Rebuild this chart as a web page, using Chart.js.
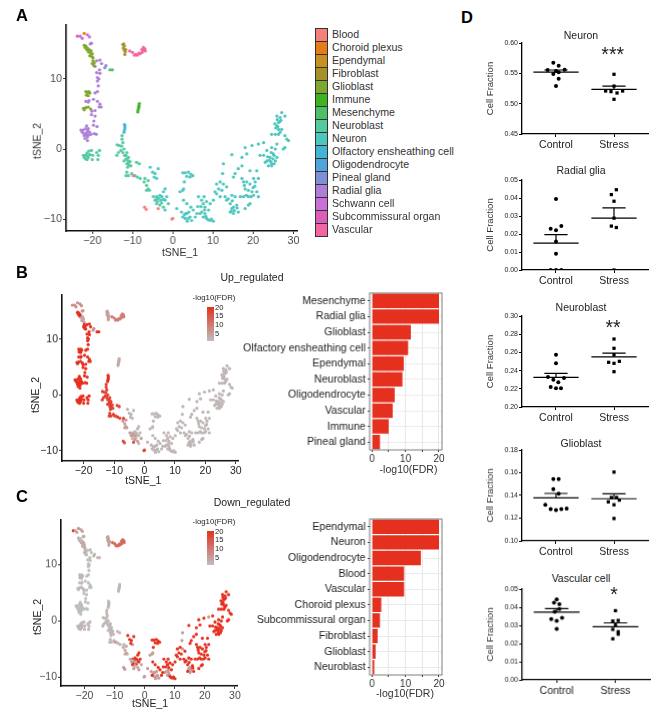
<!DOCTYPE html>
<html>
<head>
<meta charset="utf-8">
<script src="https://cdn.jsdelivr.net/npm/chart.js@4/dist/chart.umd.min.js"></script>
<style>
html, body { margin: 0; padding: 0; background: #fff; }
#page { position: relative; width: 669px; height: 717px; overflow: hidden; font-family: "Liberation Sans", Arial, sans-serif; }
#page canvas { position: absolute; }
.lbl { position: absolute; white-space: nowrap; line-height: 1; transform: translate(-50%, -50%); color: #222; }
.swatch { position: absolute; box-sizing: border-box; border: 1px solid #333; }
</style>
</head>
<body>
<div id="page"></div>
<script>
// t-SNE cells, one list per colour/expression group
var bloodPts = [[-9.8,-3.8],[-7,-8.3],[-6.6,-8.6],[-3.6,-8.5],[-0.2,-10],[0,-9.9]];
var schwannPts = [[-23,16.1],[-22.5,15.8],[-21.2,16.3],[-20.7,16]];
var subcomPts = [[-23.7,16.1]];
var choroidPts = [[-22,16.5]];
var radialTopPts = [[-20.2,15.1],[-20.5,15]];
var glioHotPts = [[-22,14.8],[-21.8,14.5],[-21.6,14.7],[-21.4,14.2],[-21.2,14.4],[-19.8,12.6],[-20,12.2],[-19.5,12.3],[-19.6,11.9],
    [-21.6,8.2],[-21.2,8],[-20.9,8.2],[-20.6,8],[-21.5,7.7],[-21,7.6],[-22.2,5.8],[-21.6,5.9],[-21,6],[-22,5.6],[-20.4,5.7]];
var glioPalePts = [[-21,13.9],[-20.8,14.2],[-20.5,13.7],[-20.3,14],[-20,13.6],[-20.6,13.3],[-20.1,13.2],[-19.8,13]];
var radialPts = [[-18.1,12.7],[-18.9,12.6],[-17.7,12.2],[-19.3,11.8],[-18.2,11.3],[-18.9,10.9],[-18.1,10.8],[-18.7,10.2],[-18.4,10],[-18.7,9.7],[-18.5,9],
    [-19.3,8],[-18.7,8.2],[-21.6,6.8],[-20.8,6.9],[-19.7,7.1],[-18.7,6.8],[-21,6.7],[-18.1,6.4],[-17.8,6],[-18.3,6],[-20.1,5.4],[-19.3,5.5],[-20.2,4.9],
    [-19.6,4],[-19.7,3.4],[-19.3,4.7],[-22.3,2.7],[-22.5,2.4],[-22.1,2.2],[-21.7,2.9],[-21.4,3.3],[-21.2,2.6],[-21.5,2],[-21.2,1.7],[-21.8,1.5],[-21.2,1.2],
    [-20.9,2],[-20.7,2.4],[-20.3,2.1],[-22,1.9],[-21.4,2.3],[-21,2.9],[-19.5,2.2],[-18.8,3.2],[-19,2.1],[-22.8,2.7]];
var pinealPts = [[-16.6,11.9],[-16.9,11.6]];
var mesenchymePts = [[-15.6,11.3],[-15,11.3]];
var lowerLeftPts = [[-22,-1.2],[-21.6,-0.9],[-21.3,-0.6],[-21,-1.2],[-21.3,-1.5],[-20.9,-0.3],[-20.6,-0.8],[-20.2,-0.2],[-19.9,-0.9],[-20,-1.5],
    [-18.9,-0.5],[-18.2,-0.2],[-18.5,-0.9],[-18.6,-1.5],[-21.7,-1.4],[-21.1,-1],[-22.2,-0.9]];
var olfactoryPts = [[-11.9,3.3],[-11.9,3],[-12,2.7],[-12.1,2.4],[-12,3.5]];
var arcHotPts = [[-12.6,1.9],[-12.6,1.4],[-12.4,0.9],[-13.8,0.6],[-13.3,0.5],[-12.7,0.4],[-12.1,0],[-13.5,-0.5],[-12.9,-0.2],[-12.4,-0.5],[-13.9,-0.9],
    [-11.4,-0.5],[-11,-1.2],[-11.6,-1.4],[-12.1,-1.7],[-11,-1.9],[-10.4,-2.4],[-11.4,-2.1],[-9,-1.9],[-8.3,-2.1],[-11.4,-3.3],[-11,-3.8],[-10.2,-3.5],
    [-9.4,-3.8],[-11.6,-3.8],[-8.8,-4],[-8.1,-4.2],[-6.9,-4.2],[-12,-0.9],[-11.6,-0.9],[-11.2,-1.6],[-10.9,-2.3],[-11.2,-2.6],[-10.6,-1.8]];
var arcPalePts = [[-6.1,-4.5],[-7.1,-4.7],[-6.5,-5.2],[-6.1,-5.7],[-6.5,-5.9],[-5.8,-5.9],[-4.8,-6.8],[-4.4,-7.3],[-3.2,-8],[-2.3,-8.3],[-1.1,-7.8],[-3.9,-7.1],[-3,-7.3]];
var neuronHotPts = [[-5.6,-2.6],[-5,-3.3],[-4.4,-3.5],[-3.6,-2.8],[-4.6,-4],[-4,-6.8],[-3.8,-7.5],[-3.2,-6.6],[-2.3,-6.1],[-1.9,-5.7],[-2.7,-6.8],[-1.9,-7.3],[-1.5,-6.8],[-4,-7.8],[-3.5,-7],[-2.8,-7.7],[-2.3,-7.2],
    [2.5,-3.4],[3.1,-3.4],[3.9,-3.3],[4.5,-3.6],[5,-3.8],[3.5,-3.9],[4.3,-4],[2.9,-4.7],[2.5,-9.7],[2.7,-7.3],[3.5,-7.8],[4.5,-8.3],[5.1,-8.7],[6,-9.2],[5.6,-9.7],
    [8.4,-9.9],[9.3,-10.2],[10.1,-10.3],[8.9,-8.7],[8,-8.3],[6.4,-6.8],[7.2,-7.3],[8.4,-7.5],[9.3,-7.8],[10.1,-7.3],[7.6,-7.8],[7.8,-6.8],[6.2,-8.2],[8.8,-10.1],[9.6,-10],[7,-8.2],
    [10.9,-5],[11.8,-4.7],[13.4,-5.4],[11.4,-5.7],[10.5,-6.1],[12.2,-5.9],[10.9,-6.4],[11.8,-6.8],[14.7,-0.8],[17.2,-2.4],[16.3,-2.8],[15.5,-3.5],[15.1,-4],[17.2,-1.2],[18.4,-0.7],
    [18,0.2],[19.7,0.5],[22.6,0.9],[23.4,-0.2],[22.6,-0.9],[21.7,-0.9],[23.4,-1.7],[23.8,-2.4],[24.6,-2.1],[25,-0.7],[25.5,0],[24.6,0.2],[25.9,0.7],[26.3,2.1],[25.5,2.1],[27.1,2.8],
    [27.9,1.9],[28.4,1.4],[28.8,1.2],[27.5,0],[27.9,0.2],[25.9,3.3],[26.3,3.8],[26.7,4.5],[25.9,4.7],[27.1,5.2],[27.9,4.7],[26.3,2.8],[26.7,2.4],[24.6,2.1],[24.6,-2.4],[25.5,-1.7],
    [25.9,-1.2],[24.2,-1.2],[23,-1.9],[13,-6.8],[13.8,-7.1],[14.3,-7.8],[13.4,-7.3],[14.3,-9],[16.3,-9],[15.9,-8],[14.7,-6.6],[15.5,-6.8],[16.8,-6.8],[17.6,-6.8],[18.8,-6.8],[20.1,-6.6],
    [18.8,-8],[18,-8.5],[19.2,-7.8],[17.6,-4.7],[18.4,-4.7],[19.2,-5],[20.5,-4.7],[20.1,-4.2],[21.3,-4.2],[20.9,-3.1],[18,-5.7],[18.8,-5.9],[19.7,-6.1],[20.9,-6.1],[21.3,-6.8],[17.2,-4.2],[19.2,-3.1],
    [25.6,3],[26.1,3.2],[26.6,3.9],[25.4,3.6],[26.9,4.1],[26,4.2],[24,-1.6],[24.4,-1.8],[24.9,-1.4],[25.2,-0.9],[23.6,-1.1],[24.5,-0.5],[25.2,-2.1],
    [14.8,-7.4],[16,-8.4],[18.3,-6.6],[17.8,-5.2],[19.5,-6.8],[20.4,-5.3],[20,-5.5]];
var neuronPalePts = [[-4,-4.2],[-1.9,-8.7],[1,-8.5],[2.2,-9],[3.1,-9.9],[3.5,-9.2],[4.3,-9.7],[4.7,-10.2],[3.9,-9.9],[6.8,-9.2],[7.6,-9.7],[7.2,-9],[8,-9.2],
    [2.5,-5.9],[1.8,-6.1],[2.7,-5.7],[12.6,-5],[12.4,-3.5],[12.6,-2.1],[21.3,0.7],[14.7,-8.5],[15.1,-9.2],[15.1,-8.3],
    [7.9,-8.7],[8.2,-9.6],[3.2,-9.2],[4,-9],[2.9,-9.4],[3.6,-10.3],[15.3,-8.8],[14.5,-8.9]];
var immunePts = [[-8.3,6.5],[-8.4,6.2],[-8.5,5.9],[-8.6,5.6],[-8.7,5.3],[-8.4,6]];
var fibroblastPts = [[-12.2,15],[-12,14.7],[-12.3,14.4],[-12,14.1],[-11.8,13.9],[-12.4,14.9],[-11.9,13.5],[-11.7,14.2]];
var vascularPts = [[-10.7,14],[-10,13.8],[-9.5,13.4],[-9.2,13.5],[-8.8,13.4],[-8.4,13.7],[-8.1,13.6],[-7.6,13.8],[-7.2,14.1],[-6.9,14.3],[-7.3,14.5],[-6.8,14],[-7.7,14.2]];

var legendNames = ['Blood','Choroid plexus','Ependymal','Fibroblast','Glioblast','Immune','Mesenchyme','Neuroblast','Neuron',
    'Olfactory ensheathing cell','Oligodendrocyte','Pineal gland','Radial glia','Schwann cell','Subcommissural organ','Vascular'];
var legendColors = ['#f67f7a','#e37d1a','#c8901f','#a5902a','#7fa72b','#3cb31f','#4cc064','#54ca9f','#4dc6be',
    '#43b4d4','#4fa4dc','#7f90d8','#ae7fd8','#c870d8','#db5cbb','#f265a1'];

// [points, legend name, fdr in Up panel, fdr in Down panel]
var cellGroups = [
    [bloodPts,'Blood',16,5],[choroidPts,'Choroid plexus',6,6],[schwannPts,'Schwann cell',7,4],[subcomPts,'Subcommissural organ',7,20],
    [radialTopPts,'Radial glia',6,2],[glioHotPts,'Glioblast',20,1],[glioPalePts,'Glioblast',3,3],[radialPts,'Radial glia',20,0],
    [pinealPts,'Pineal gland',6,1],[mesenchymePts,'Mesenchyme',20,1],[lowerLeftPts,'Neuroblast',20,1],[olfactoryPts,'Olfactory ensheathing cell',20,1],
    [arcHotPts,'Neuroblast',18,1],[arcPalePts,'Neuroblast',5,3],[neuronHotPts,'Neuron',1,20],[neuronPalePts,'Neuron',1,5],
    [immunePts,'Immune',3,1],[fibroblastPts,'Fibroblast',4,4],[vascularPts,'Vascular',9,12]
];
var tsneXTicks = [-20,-10,0,10,20,30];
var tsneYTicks = [-10,0,10];

var upLabels = ['Mesenchyme','Radial glia','Glioblast','Olfactory ensheathing cell','Ependymal','Neuroblast','Oligodendrocyte','Vascular','Immune','Pineal gland'];
var upValues = [20,20,11.6,10.8,9.5,9.1,6.8,6.2,5,2.4];
var downLabels = ['Ependymal','Neuron','Oligodendrocyte','Blood','Vascular','Choroid plexus','Subcommissural organ','Fibroblast','Glioblast','Neuroblast'];
var downValues = [20,20,14.6,9.6,9.6,2.8,2.4,1.7,1.1,0.7];
var fdrTicks = [0,5,10,15,20];

// panel D: [position with jitter, cell fraction]
var neuronControl = [[.954,.5676],[1.046,.5626],[.856,.5555],[1.149,.556],[.954,.549],[1.046,.5516],[1.046,.541],[1,.529],[1,.5538]];
var neuronStress = [[2,.5484],[2,.529],[1.856,.5209],[1.948,.5198],[2.052,.5176],[2.149,.5209],[2,.5072]];
var neuronMean = [.552,.5236];
var neuronUpper = [.5555,.529];
var neuronTicks = [.45,.5,.55,.6];
var radialControl = [[1,.0395],[.908,.0229],[1,.0221],[1.092,.0245],[1,.0159],[1,.009],[.908,0],[1,0],[1.092,0]];
var radialStress = [[2.04,.0446],[1.954,.0419],[2,.0382],[2,.0288],[1.954,.0244],[2.04,.0236],[2,0]];
var radialMean = [.0149,.0288];
var radialUpper = [.0196,.0345];
var radialTicks = [0,.01,.02,.03,.04,.05];
var neuroblastControl = [[1,.2575],[1,.248],[.862,.233],[1.138,.2319],[.954,.23],[1.04,.2271],[.908,.222],[1,.2205],[1.086,.2205]];
var neuroblastStress = [[2,.2747],[2,.2645],[2,.2575],[1.908,.2491],[2,.248],[2.092,.2502],[2,.2388]];
var neuroblastMean = [.2326,.255];
var neuroblastUpper = [.237,.2593];
var neuroblastTicks = [.2,.22,.24,.26,.28,.3];
var glioControl = [[.954,.1544],[1.046,.1544],[.954,.1456],[1.046,.1415],[.816,.1318],[.908,.1279],[1,.1271],[1.092,.1279],[1.184,.1285]];
var glioStress = [[2,.1606],[1.954,.1382],[2.046,.1382],[1.902,.1344],[2.092,.1359],[2,.1318],[2,.1197]];
var glioMean = [.1379,.1371];
var glioUpper = [.1418,.1415];
var glioTicks = [.1,.12,.14,.16,.18];
var vascularControl = [[1,.0443],[.954,.0425],[1.046,.0416],[1.046,.039],[.966,.0375],[.908,.0335],[1,.0325],[1.092,.0342],[1,.0281]];
var vascularStress = [[2,.0381],[1.954,.0324],[2.046,.0327],[2,.0301],[1.954,.0278],[2.046,.0265],[2.046,.0252],[1.954,.0226]];
var vascularMean = [.0373,.0292];
var vascularUpper = [.0392,.0314];
var vascularTicks = [0,.01,.02,.03,.04,.05];
var groupNames = ['Control','Stress'];

var page = document.getElementById('page');
var FONT = '"Liberation Sans", Arial, sans-serif';
Chart.defaults.font.family = FONT;
Chart.defaults.animation = false;

// all loose text on the figure goes through here
function label(text, x, y, size, opts) {
    opts = opts || {};
    var d = document.createElement('div');
    d.className = 'lbl';
    d.textContent = text;
    d.style.left = x + 'px';
    d.style.top = y + 'px';
    d.style.fontSize = size + 'px';
    if (opts.bold) d.style.fontWeight = 'bold';
    if (opts.color) d.style.color = opts.color;
    if (opts.rotate) d.style.transform = 'translate(-50%,-50%) rotate(-90deg)';
    if (opts.left) d.style.transform = 'translate(0,-50%)';
    page.appendChild(d);
}

// puts a chart on the page so that its plot area lands exactly on box
function placeChart(box, space, config) {
    var canvas = document.createElement('canvas');
    var w = box.right - box.left + space.left + space.right;
    var h = box.bottom - box.top + space.top + space.bottom;
    canvas.width = w;
    canvas.height = h;
    canvas.style.left = (box.left - space.left) + 'px';
    canvas.style.top = (box.top - space.top) + 'px';
    canvas.style.width = w + 'px';
    canvas.style.height = h + 'px';
    page.appendChild(canvas);
    config.options.responsive = false;
    config.options.layout = { padding: { top: space.top, right: space.right, left: 0, bottom: 0 } };
    // no extra inset for labels at the axis ends, otherwise the plot area shrinks
    config.options.scales.x.afterFit = function(s) { s.height = space.bottom; s.paddingLeft = 0; s.paddingRight = 0; };
    config.options.scales.y.afterFit = function(s) { s.width = space.left; s.paddingTop = 0; s.paddingBottom = 0; };
    config.options.plugins = config.options.plugins || {};
    config.options.plugins.legend = { display: false };
    config.options.plugins.tooltip = { enabled: false };
    return new Chart(canvas.getContext('2d'), config);
}

function setTicks(values) {
    return function(s) { s.ticks = values.map(function(v) { return { value: v }; }); };
}

function hexRgb(h) { return [1,3,5].map(function(i) { return parseInt(h.substr(i,2),16); }); }
var GREY = hexRgb('#bdbdbd'), RED = hexRgb('#e5301f');
function fdrColor(v) {
    var t = Math.min(v, 20) / 20;
    return 'rgb(' + GREY.map(function(g,i) { return Math.round(g + (RED[i]-g)*t); }).join(',') + ')';
}

function toXY(p) { return { x: p[0], y: p[1] }; }

function tsneChart(box, xr, yr, tickSize, tickColor, colorOf) {
    var minus = function(v) { return String(v).replace('-', '\u2212'); };
    placeChart(box, { left: 36, right: 12, top: 2, bottom: 18 }, {
        type: 'scatter',
        data: { datasets: cellGroups.map(function(g) {
            return { data: g[0].map(toXY), pointRadius: 1.6, pointBorderWidth: 0, backgroundColor: colorOf(g) };
        }) },
        options: { scales: {
            x: { type: 'linear', min: xr[0], max: xr[1], afterBuildTicks: setTicks(tsneXTicks),
                grid: { drawOnChartArea: false, tickLength: 3, color: '#333' }, border: { color: '#111', width: 1.6 },
                ticks: { autoSkip: false, maxRotation: 0, padding: 1, color: tickColor, font: { size: tickSize }, callback: minus } },
            y: { type: 'linear', min: yr[0], max: yr[1], afterBuildTicks: setTicks(tsneYTicks),
                grid: { drawOnChartArea: false, tickLength: 3, color: '#333' }, border: { color: '#111', width: 1.6 },
                ticks: { autoSkip: false, padding: 1, color: tickColor, font: { size: tickSize }, callback: minus } }
        } }
    });
}

var panelBorder = { id: 'panelBorder', afterDraw: function(c) {
    var a = c.chartArea, ctx = c.ctx;
    ctx.save();
    ctx.strokeStyle = '#7f7f7f';
    ctx.lineWidth = 1;
    ctx.strokeRect(a.left, a.top, a.right - a.left, a.bottom - a.top);
    ctx.restore();
} };

function barChart(box, labels, values) {
    placeChart(box, { left: 132, right: 6, top: 1, bottom: 16 }, {
        type: 'bar',
        plugins: [panelBorder],
        data: { labels: labels, datasets: [{ data: values, backgroundColor: '#e5301f', barPercentage: 0.92, categoryPercentage: 1 }] },
        options: { indexAxis: 'y', scales: {
            x: { type: 'linear', min: -0.68, max: 20.9, afterBuildTicks: setTicks(fdrTicks),
                grid: { color: '#e6e6e6', tickColor: '#333', tickLength: 2 }, border: { display: false },
                ticks: { autoSkip: false, maxRotation: 0, padding: 1, color: '#333', font: { size: 10 },
                    callback: function(v) { return v % 10 === 0 ? v : ''; } } },
            y: { grid: { offset: false, color: '#ebebeb', tickColor: '#333', tickLength: 2 }, border: { display: false },
                ticks: { autoSkip: false, padding: 2, color: '#222', font: { size: 10.6 } } }
        } }
    });
}

function fractionChart(box, control, stress, mean, upper, ticks) {
    var datasets = [
        { data: control.map(toXY), pointRadius: 2, pointStyle: 'circle', backgroundColor: '#000', pointBorderWidth: 0 },
        { data: stress.map(toXY), pointRadius: 2.3, pointStyle: 'rect', backgroundColor: '#000', pointBorderWidth: 0 }
    ];
    mean.forEach(function(m, i) {
        var p = i + 1;
        datasets.push({ data: [{ x: p - 0.39, y: m }, { x: p + 0.39, y: m }], showLine: true, pointRadius: 0, borderColor: '#000', borderWidth: 1.2 });
        datasets.push({ data: [{ x: p, y: m }, { x: p, y: upper[i] }, { x: p - 0.2, y: upper[i] }, { x: p + 0.2, y: upper[i] }],
            showLine: true, pointRadius: 0, borderColor: '#000', borderWidth: 1.2 });
    });
    placeChart(box, { left: 37, right: 12, top: 5, bottom: 20 }, {
        type: 'scatter',
        data: { datasets: datasets },
        options: { scales: {
            x: { type: 'linear', min: 0.414, max: 2.586, afterBuildTicks: setTicks([1, 2]),
                grid: { drawOnChartArea: false, tickLength: 3, color: '#000' }, border: { color: '#000', width: 1.3 },
                ticks: { autoSkip: false, maxRotation: 0, padding: 2, color: '#222', font: { size: 10.5 },
                    callback: function(v) { return groupNames[v - 1]; } } },
            y: { type: 'linear', min: ticks[0], max: ticks[ticks.length - 1], afterBuildTicks: setTicks(ticks),
                grid: { drawOnChartArea: false, tickLength: 3, color: '#000' }, border: { color: '#000', width: 1.3 },
                title: { display: true, text: 'Cell Fraction', color: '#333', font: { size: 9.5 }, padding: 0 },
                ticks: { autoSkip: false, padding: 1, color: '#222', font: { size: 7 },
                    callback: function(v) { return v.toFixed(2); } } }
        } }
    });
}

function colorBar(x, top) {
    var d = document.createElement('div');
    d.style.cssText = 'position:absolute;left:' + x + 'px;top:' + top + 'px;width:7px;height:34px;background:linear-gradient(#e5301f,#bdbdbd);';
    page.appendChild(d);
    label('-log10(FDR)', x + 7, top - 9, 7.8);
    ['20','15','10','5'].forEach(function(t, i) {
        label(t, x + 8, top + 1 + i * 8.6, 7.6, { left: true });
    });
}

// panel A
var legendColorOf = function(g) { return legendColors[legendNames.indexOf(g[1])]; };
tsneChart({ left: 66.3, right: 297, top: 22.7, bottom: 231 }, [-26.5, 30.9], [-11.7, 17.7], 10.8, '#4d4d4d', legendColorOf);
label('tSNE_1', 180, 252, 10.5, { color: '#333' });
label('tSNE_2', 36.7, 141, 10.5, { rotate: true, color: '#333' });
legendNames.forEach(function(name, i) {
    var s = document.createElement('div');
    s.className = 'swatch';
    s.style.cssText = 'left:315px;top:' + (28 + i * 13) + 'px;width:13px;height:14px;background:' + legendColors[i];
    page.appendChild(s);
    label(name, 332, 33.5 + i * 13, 10.6, { left: true, color: '#333' });
});

// panel B
tsneChart({ left: 61.7, right: 238, top: 293, bottom: 460.7 }, [-27.1, 30.7], [-11.85, 17.9], 10.5, '#222', function(g) { return fdrColor(g[2]); });
label('tSNE_1', 143.3, 480, 10.5);
label('tSNE_2', 35, 394.7, 10.5, { rotate: true });
label('Up_regulated', 252, 277, 10.5);
colorBar(207, 306.7);
barChart({ left: 369, right: 441.7, top: 293.3, bottom: 450 }, upLabels, upValues);
label('-log10(FDR)', 408.5, 469, 10.5, { color: '#333' });

// panel C
tsneChart({ left: 61, right: 237, top: 518, bottom: 685.7 }, [-27.8, 30.7], [-11.6, 18], 10.5, '#4d4d4d', function(g) { return fdrColor(g[3]); });
label('tSNE_1', 150, 703, 10.5);
label('tSNE_2', 36.7, 616.7, 10.5, { rotate: true });
label('Down_regulated', 252, 502, 10.5);
colorBar(207, 530.7);
barChart({ left: 369.3, right: 441.7, top: 519, bottom: 675 }, downLabels, downValues);
label('-log10(FDR)', 405, 693.3, 10.5, { color: '#333' });

// panel D
fractionChart({ left: 521.7, right: 647.7, top: 43, bottom: 134 }, neuronControl, neuronStress, neuronMean, neuronUpper, neuronTicks);
fractionChart({ left: 521.7, right: 647.7, top: 180, bottom: 270.3 }, radialControl, radialStress, radialMean, radialUpper, radialTicks);
fractionChart({ left: 521.7, right: 647.7, top: 315.7, bottom: 406.7 }, neuroblastControl, neuroblastStress, neuroblastMean, neuroblastUpper, neuroblastTicks);
fractionChart({ left: 522, right: 648, top: 450.3, bottom: 541 }, glioControl, glioStress, glioMean, glioUpper, glioTicks);
fractionChart({ left: 522.3, right: 650, top: 589, bottom: 679.7 }, vascularControl, vascularStress, vascularMean, vascularUpper, vascularTicks);
label('Neuron', 581, 35, 10.5);
label('Radial glia', 581, 170, 10.5);
label('Neuroblast', 581, 306.7, 10.5);
label('Glioblast', 581, 442.7, 10.5);
label('Vascular cell', 581, 577.7, 10.5);
label('***', 612.7, 55, 19.5);
label('**', 613, 328, 19.5);
label('*', 614, 595, 19.5);

label('A', 22, 15, 16.5, { bold: true, color: '#000' });
label('B', 22, 272, 16.5, { bold: true, color: '#000' });
label('C', 22, 496, 16.5, { bold: true, color: '#000' });
label('D', 467, 17, 16.5, { bold: true, color: '#000' });
</script>
</body>
</html>
